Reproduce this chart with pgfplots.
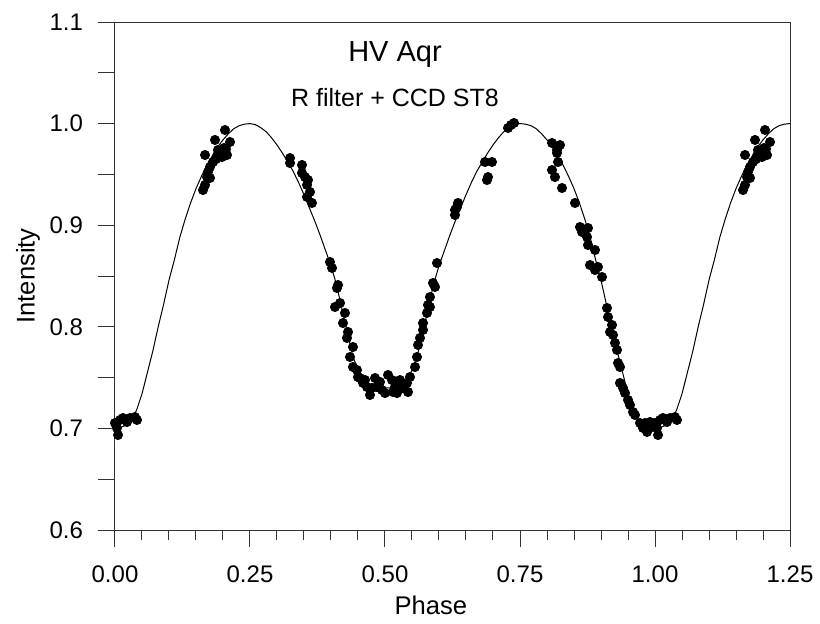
\documentclass[border=0pt]{standalone}
\usepackage{fontspec}
\setmainfont{Liberation Sans}
\usepackage{pgfplots}
\usepackage{pgfplotstable}
\pgfplotsset{compat=1.18}

% observed points, phases 0.16 .. 1.04 (repeated at +1 and -1 below)
\pgfplotstableread{
p I
0.1630 0.9346
0.1667 0.9396
0.1667 0.9691
0.1704 0.9474
0.1722 0.9524
0.1759 0.9573
0.1759 0.9465
0.1815 0.9622
0.1852 0.9839
0.1870 0.9650
0.1889 0.9680
0.1907 0.9740
0.1944 0.9700
0.1981 0.9671
0.2000 0.9720
0.2019 0.9760
0.2037 0.9937
0.2056 0.9750
0.2074 0.9691
0.2130 0.9819
0.3241 0.9661
0.3241 0.9612
0.3463 0.9593
0.3463 0.9514
0.3519 0.9474
0.3574 0.9445
0.3556 0.9396
0.3611 0.9327
0.3556 0.9278
0.3648 0.9219
0.3981 0.8638
0.4019 0.8579
0.4130 0.8411
0.4111 0.8382
0.4167 0.8234
0.4074 0.8195
0.4259 0.8136
0.4222 0.8037
0.4315 0.7949
0.4296 0.7890
0.4407 0.7801
0.4352 0.7703
0.4407 0.7604
0.4481 0.7575
0.4500 0.7506
0.4537 0.7496
0.4593 0.7447
0.4630 0.7476
0.4667 0.7407
0.4722 0.7329
0.4759 0.7398
0.4815 0.7496
0.4852 0.7407
0.4907 0.7457
0.4944 0.7378
0.5000 0.7348
0.5056 0.7526
0.5130 0.7476
0.5148 0.7358
0.5185 0.7407
0.5222 0.7348
0.5278 0.7476
0.5278 0.7388
0.5333 0.7407
0.5407 0.7447
0.5426 0.7358
0.5463 0.7506
0.5556 0.7604
0.5593 0.7703
0.5611 0.7821
0.5648 0.7890
0.5704 0.7969
0.5704 0.8037
0.5778 0.8136
0.5833 0.8195
0.5796 0.8215
0.5833 0.8293
0.5889 0.8431
0.5926 0.8392
0.5963 0.8628
0.6296 0.9100
0.6296 0.9150
0.6333 0.9179
0.6352 0.9219
0.6889 0.9445
0.6907 0.9474
0.6852 0.9622
0.6981 0.9622
0.7278 0.9957
0.7333 0.9986
0.7389 1.0006
0.8093 0.9809
0.8241 0.9789
0.8185 0.9740
0.8185 0.9711
0.8204 0.9622
0.8093 0.9543
0.8148 0.9474
0.8278 0.9366
0.8519 0.9219
0.8611 0.8982
0.8648 0.8933
0.8759 0.8972
0.8741 0.8884
0.8759 0.8805
0.8889 0.8756
0.8796 0.8608
0.8889 0.8559
0.8944 0.8589
0.9019 0.8490
0.9111 0.8185
0.9130 0.8096
0.9204 0.8018
0.9167 0.7949
0.9222 0.7919
0.9259 0.7841
0.9296 0.7772
0.9315 0.7644
0.9352 0.7604
0.9352 0.7447
0.9407 0.7398
0.9444 0.7348
0.9500 0.7280
0.9537 0.7230
0.9593 0.7161
0.9630 0.7132
0.9722 0.7053
0.9778 0.7004
0.9852 0.6965
0.9815 0.7053
0.9907 0.7063
0.9944 0.7014
1.0000 0.7053
1.0037 0.7004
1.0056 0.6935
1.0093 0.7083
1.0148 0.7102
1.0222 0.7063
1.0278 0.7102
1.0370 0.7112
1.0407 0.7083
}\obs

% fitted light curve
\pgfplotstableread{
p I
0.00 0.700
0.01 0.701
0.02 0.703
0.03 0.707
0.04 0.718
0.05 0.734
0.06 0.755
0.07 0.776
0.08 0.800
0.09 0.822
0.10 0.846
0.11 0.866
0.12 0.888
0.13 0.906
0.14 0.922
0.15 0.936
0.16 0.948
0.17 0.959
0.18 0.968
0.19 0.977
0.20 0.984
0.21 0.990
0.22 0.995
0.23 0.998
0.24 0.9995
0.25 1.000
0.26 0.999
0.27 0.996
0.28 0.992
0.29 0.986
0.30 0.979
0.31 0.971
0.32 0.962
0.33 0.953
0.34 0.942
0.35 0.930
0.36 0.917
0.37 0.904
0.38 0.890
0.39 0.875
0.40 0.860
0.41 0.842
0.42 0.818
0.43 0.795
0.44 0.772
0.45 0.757
0.46 0.748
0.47 0.743
0.48 0.741
0.49 0.740
0.50 0.740
0.51 0.740
0.52 0.741
0.53 0.743
0.54 0.748
0.55 0.757
0.56 0.772
0.57 0.795
0.58 0.818
0.59 0.842
0.60 0.860
0.61 0.875
0.62 0.890
0.63 0.904
0.64 0.917
0.65 0.930
0.66 0.942
0.67 0.953
0.68 0.962
0.69 0.971
0.70 0.979
0.71 0.986
0.72 0.992
0.73 0.996
0.74 0.999
0.75 1.000
0.76 0.9995
0.77 0.998
0.78 0.995
0.79 0.990
0.80 0.984
0.81 0.977
0.82 0.968
0.83 0.959
0.84 0.948
0.85 0.936
0.86 0.922
0.87 0.906
0.88 0.888
0.89 0.866
0.90 0.846
0.91 0.822
0.92 0.800
0.93 0.776
0.94 0.755
0.95 0.734
0.96 0.718
0.97 0.707
0.98 0.703
0.99 0.701
1.00 0.700
1.01 0.701
1.02 0.703
1.03 0.707
1.04 0.718
1.05 0.734
1.06 0.755
1.07 0.776
1.08 0.800
1.09 0.822
1.10 0.846
1.11 0.866
1.12 0.888
1.13 0.906
1.14 0.922
1.15 0.936
1.16 0.948
1.17 0.959
1.18 0.968
1.19 0.977
1.20 0.984
1.21 0.990
1.22 0.995
1.23 0.998
1.24 0.9995
1.25 1.000
}\fit

\begin{document}
\begin{tikzpicture}
\useasboundingbox (-57.5pt,-46.5pt) rectangle (352.5pt,265pt);
\begin{axis}[scale only axis, width=337.5pt, height=254pt,
  xmin=0, xmax=1.25, ymin=0.6, ymax=1.1, clip=false,
  axis line style={black!80, line width=0.5pt},
  tick style={black!80, line width=0.5pt},
  tick align=outside, xtick pos=bottom, ytick pos=left,
  major tick length=8.5pt, minor tick length=5pt,
  xtick={0,0.25,0.5,0.75,1,1.25}, minor x tick num=4,
  ytick={0.6,0.65,0.7,0.75,0.8,0.85,0.9,0.95,1.0,1.05,1.1},
  yticklabels={0.6,,0.7,,0.8,,0.9,,1.0,,1.1},
  xticklabel style={/pgf/number format/.cd, fixed, fixed zerofill, precision=2, assume math mode=true},
  xticklabel shift=6pt, yticklabel shift=4pt,
  tick label style={font=\fontsize{12}{14}\selectfont},
  xlabel={Phase}, ylabel={Intensity},
  label style={font=\fontsize{12.8}{15}\selectfont},
  xlabel style={at={(axis description cs:0.468,-0.1476)}, anchor=center},
  ylabel style={at={(axis description cs:-0.1289,0.5)}, anchor=center},
  ]
\addplot[black, line width=0.5pt] table[x=p, y=I] {\fit};
\addplot[only marks, mark=*, mark size=2.3pt, black] table[x=p, y=I] {\obs};
\addplot[only marks, mark=*, mark size=2.3pt, black, restrict x to domain=1.1:1.26] table[x expr=\thisrow{p}+1, y=I] {\obs};
\addplot[only marks, mark=*, mark size=2.3pt, black, restrict x to domain=-0.001:0.1] table[x expr=\thisrow{p}-1, y=I] {\obs};
\node[font=\fontsize{14.5}{16}\selectfont] at (axis cs:0.5185,1.0675) {HV Aqr};
\node[font=\fontsize{12.5}{15}\selectfont] at (axis cs:0.5185,1.0252) {R filter + CCD ST8};
\end{axis}
\end{tikzpicture}
\end{document}
